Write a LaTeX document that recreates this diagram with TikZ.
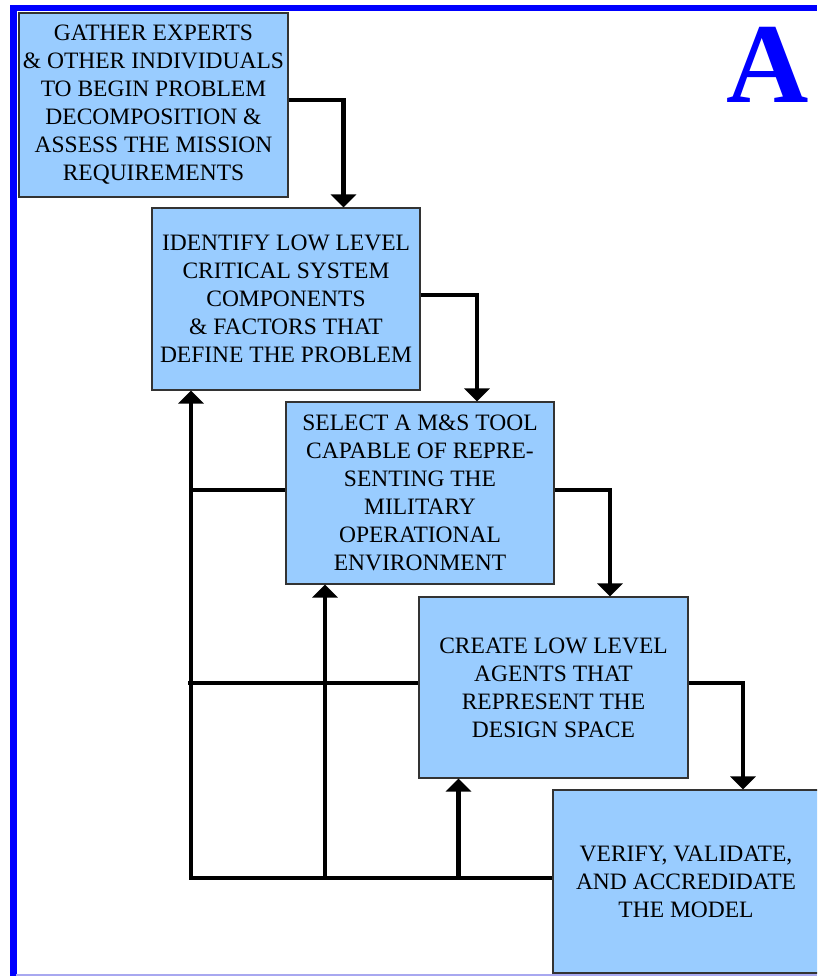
\documentclass[tikz,border=0pt]{standalone}
\usepackage{fontspec}
\setmainfont{Liberation Serif}
\usetikzlibrary{arrows.meta}
\definecolor{boxfill}{HTML}{99CCFF}
\definecolor{frameblue}{HTML}{0000FF}
\definecolor{boxline}{HTML}{333333}
\definecolor{lavender}{HTML}{A8A8F0}
\begin{document}
\begin{tikzpicture}[x=1pt,y=-1pt,
  stepbox/.style={draw=boxline, line width=1.2pt, fill=boxfill, inner sep=0pt,
    align=center, text=black, font=\fontsize{23.5}{28}\selectfont},
  flow/.style={line width=4.5pt, -{Triangle[width=25pt,length=13pt]}},
  link/.style={line width=4.5pt}]
\useasboundingbox (0,0) rectangle (817,976);
\clip (0,0) rectangle (817,976);
\fill[white] (0,0) rectangle (817,976);

% page frame
\fill[frameblue] (10,5) rectangle (817,11.5);
\fill[frameblue] (10,5) rectangle (16.5,976);
\draw[lavender, line width=1.5pt] (16,975) -- (817,975);

% panel letter
\node[anchor=base, text=frameblue, font=\fontsize{114}{114}\selectfont\bfseries] (tag) at (768,103) {A};

% process steps
\node[stepbox, minimum width=269pt, minimum height=184pt] (b1) at (153.5,105)
  {GATHER EXPERTS\\ \& OTHER INDIVIDUALS\\ TO BEGIN PROBLEM\\ DECOMPOSITION \&\\ ASSESS THE MISSION\\ REQUIREMENTS};
\node[stepbox, minimum width=268pt, minimum height=182pt] (b2) at (286,299)
  {IDENTIFY LOW LEVEL\\ CRITICAL SYSTEM\\ COMPONENTS\\ \& FACTORS THAT\\ DEFINE THE PROBLEM};
\node[stepbox, minimum width=268pt, minimum height=182pt] (b3) at (420,493)
  {SELECT A M\&S TOOL\\ CAPABLE OF REPRE-\\ SENTING THE\\ MILITARY\\ OPERATIONAL\\ ENVIRONMENT};
\node[stepbox, minimum width=269pt, minimum height=181pt] (b4) at (553.5,687.5)
  {CREATE LOW LEVEL\\ AGENTS THAT\\ REPRESENT THE\\ DESIGN SPACE};
\node[stepbox, minimum width=266pt, minimum height=183pt] (b5) at (686,881.5)
  {VERIFY, VALIDATE,\\ AND ACCREDIDATE\\ THE MODEL};

% forward flow
\draw[flow] ([yshift=5pt]b1.east) -| ([xshift=57.5pt]b2.north);
\draw[flow] ([yshift=4pt]b2.east) -| ([xshift=57pt]b3.north);
\draw[flow] ([yshift=3pt]b3.east) -| ([xshift=56.5pt]b4.north);
\draw[flow] ([yshift=4.5pt]b4.east) -| ([xshift=57pt]b5.north);

% feedback loops
\coordinate (f1) at (191,878);
\coordinate (f2) at (325,878);
\coordinate (f3) at (458.5,878);
\coordinate (h1) at (191,490);
\coordinate (h2) at (188,683);
\draw[flow] (b5.west |- f1) -- (f1) -- (f1 |- b2.south);
\draw[flow] (f2) -- (f2 |- b3.south);
\draw[flow] (f3) -- (f3 |- b4.south);
\draw[link] (h1) -- (h1 -| b3.west);
\draw[link] (h2) -- (h2 -| b4.west);
\end{tikzpicture}
\end{document}
